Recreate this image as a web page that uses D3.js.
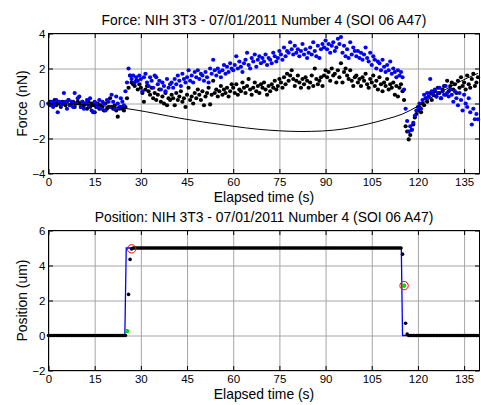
<!DOCTYPE html>
<html>
<head>
<meta charset="utf-8">
<script src="https://cdn.jsdelivr.net/npm/d3@7"></script>
<style>
  html, body { margin: 0; padding: 0; background: #fff; }
  svg { display: block; font-family: "Liberation Sans", Arial, Helvetica, sans-serif; }
</style>
</head>
<body>
<svg id="chart" width="481" height="405"></svg>
<script>
// Acquisition clock: one sample every half second, 280 samples (0 - 139.5 s)
const sampleStep = 0.5;

// Force on the cell, raw channel (nN)
const forceBlack = [
  0.0,0.1,-0.1,0.0,0.2,-0.1,0.1,0.0,-0.2,0.1,0.0,-0.1,0.1,0.2,-0.1,0.0,0.1,-0.2,0.0,0.1,
  0.0,-0.2,0.1,-0.1,0.0,-0.3,0.1,-0.2,0.0,-0.1,-0.5,-0.2,0.0,-0.3,-0.1,-0.2,-0.4,0.0,-0.3,-0.2,
  0.3,-0.2,-0.3,-0.1,-0.4,-0.75,-0.3,-0.2,-0.3,-0.4,-0.2,0.3,0.9,1.6,1.2,1.1,1.0,1.3,0.8,1.1,
  0.9,0.6,0.1,0.8,1.0,0.7,0.5,0.9,0.3,0.6,0.2,0.5,0.8,0.1,0.4,0.0,0.6,-0.1,0.3,0.2,
  0.5,0.3,-0.1,0.6,0.2,0.4,0.7,0.1,0.3,-0.2,0.5,0.9,0.2,0.4,0.0,0.6,0.3,0.8,0.5,0.2,
  0.7,-0.1,0.4,0.6,0.9,-0.05,0.5,1.3,0.6,0.8,0.4,0.7,1.0,0.5,0.8,0.6,0.9,0.4,0.7,1.1,
  0.9,0.6,1.1,0.5,0.8,0.7,1.2,0.9,0.6,1.0,1.4,0.8,0.5,0.9,1.2,0.7,1.0,0.6,1.1,0.9,
  1.2,0.8,0.5,1.0,0.7,1.1,0.9,1.3,0.8,1.0,1.4,1.2,0.9,1.5,1.1,1.7,1.3,1.6,1.9,1.4,
  1.0,1.3,1.6,1.2,0.9,1.4,1.1,1.5,1.3,0.9,1.2,1.6,1.0,2.0,1.4,1.1,1.3,1.5,1.0,1.6,
  1.9,1.5,1.8,1.3,2.0,1.6,1.7,1.2,1.9,1.5,2.3,1.2,1.8,2.0,1.6,1.4,1.9,1.3,1.0,1.5,
  1.6,1.2,1.4,1.0,1.5,1.3,1.7,1.1,0.9,1.4,1.2,1.6,1.0,1.3,0.8,1.5,1.1,0.7,1.2,1.0,
  1.4,0.8,1.1,0.9,1.2,0.5,1.0,0.4,0.9,1.1,0.7,0.2,-1.3,-1.6,-2.05,-1.8,-1.5,-1.2,-0.8,-0.6,
  -0.4,-0.2,-0.5,0.0,-0.1,0.3,0.1,0.4,0.6,0.2,0.5,0.7,0.4,0.9,0.6,0.3,0.8,1.0,0.5,1.3,
  0.7,1.0,1.2,0.8,1.1,0.6,1.3,0.9,1.5,1.0,1.2,0.8,1.6,1.1,0.9,1.4,1.7,1.0,1.2,1.5
];

// Force on the cell, drift-corrected channel (nN)
const forceBlue = [
  0.0,-0.1,0.1,-0.2,0.0,0.2,-0.5,0.1,-0.1,0.0,0.6,0.1,-0.3,0.2,-0.1,0.1,-0.2,0.6,0.0,0.3,
  0.4,-0.2,0.1,-0.3,0.0,0.2,-0.1,0.3,-0.4,-0.5,0.1,0.0,-0.2,0.2,-0.3,0.1,0.0,-0.4,0.2,0.1,
  -0.2,0.5,0.1,-0.3,0.4,0.0,-0.2,0.3,0.1,-0.1,0.7,1.2,2.0,1.6,1.4,1.6,1.2,1.5,1.3,1.6,
  1.4,0.7,1.5,1.7,1.2,1.0,1.5,1.3,0.9,1.6,1.5,1.1,1.3,0.8,1.2,1.0,0.7,1.4,0.9,1.1,
  1.2,0.9,1.4,1.1,1.6,1.3,1.0,1.7,1.4,1.2,1.5,1.9,1.3,1.6,1.2,1.8,1.5,1.9,1.4,1.7,
  1.6,1.3,1.8,1.5,1.2,2.0,1.7,2.5,1.9,1.6,2.0,1.8,1.5,1.9,2.2,1.7,2.1,1.8,2.3,2.0,
  1.9,2.2,2.7,2.0,2.4,2.1,1.8,2.3,2.5,2.9,2.2,2.0,2.6,2.4,2.8,2.1,2.5,2.7,2.3,2.6,
  2.4,2.8,2.2,2.6,2.5,2.3,2.9,2.7,2.4,2.6,3.0,2.8,2.5,3.2,2.7,3.0,2.9,3.5,3.1,2.8,
  3.3,2.9,3.1,2.7,3.0,3.4,2.8,3.1,2.6,2.9,3.2,2.8,3.5,3.0,2.7,3.3,2.6,3.1,3.4,3.2,
  3.6,3.1,3.4,2.9,3.3,3.5,3.0,3.2,3.7,3.4,3.8,2.9,3.3,2.7,3.1,2.6,3.5,2.8,3.2,3.0,
  2.7,3.0,2.6,2.9,2.5,2.8,3.2,2.6,2.4,2.9,2.2,2.7,2.5,2.0,2.4,2.3,1.9,2.5,2.1,1.8,
  2.2,1.9,2.4,1.7,2.0,1.8,1.5,1.9,1.6,1.8,1.5,0.8,-0.3,-1.0,-1.6,-1.3,-1.5,-1.1,-0.7,-0.4,
  -0.2,0.0,-0.3,0.2,0.5,0.3,0.6,0.4,1.4,0.7,0.5,0.8,0.4,0.6,0.9,0.3,0.7,0.5,1.0,0.6,
  0.4,0.8,0.5,0.1,0.7,0.3,-0.1,0.6,0.2,-0.4,0.5,0.0,-0.2,0.3,-0.5,-1.2,-0.3,-0.9,-0.6,-0.9
];

// Baseline drift fit (knots of the smooth curve)
const fitTimes = [0, 10, 20, 28, 35, 43, 50, 60, 68, 75, 82, 89, 96, 104, 110, 115, 120, 124, 128, 132, 136, 139.5];
const fitForce = [0.0, -0.05, -0.17, -0.36, -0.58, -0.85, -1.05, -1.3, -1.47, -1.56, -1.6, -1.57, -1.45, -1.16, -0.88, -0.6, -0.15, 0.3, 0.7, 1.1, 1.45, 1.72];

// Measured stage position (um), same clock as the force samples
const positionValues = [
  0,0,0,0,0,0,0,0,0,0,0,0,0,0,0,0,0,0,0,0,
  0,0,0,0,0,0,0,0,0,0,0,0,0,0,0,0,0,0,0,0,
  0,0,0,0,0,0,0,0,0,0,0,0.25,2.35,4.35,4.95,5,5,5,5,5,
  5,5,5,5,5,5,5,5,5,5,5,5,5,5,5,5,5,5,5,5,
  5,5,5,5,5,5,5,5,5,5,5,5,5,5,5,5,5,5,5,5,
  5,5,5,5,5,5,5,5,5,5,5,5,5,5,5,5,5,5,5,5,
  5,5,5,5,5,5,5,5,5,5,5,5,5,5,5,5,5,5,5,5,
  5,5,5,5,5,5,5,5,5,5,5,5,5,5,5,5,5,5,5,5,
  5,5,5,5,5,5,5,5,5,5,5,5,5,5,5,5,5,5,5,5,
  5,5,5,5,5,5,5,5,5,5,5,5,5,5,5,5,5,5,5,5,
  5,5,5,5,5,5,5,5,5,5,5,5,5,5,5,5,5,5,5,5,
  5,5,5,5,5,5,5,5,5,5,4.65,2.85,0.7,0.08,0,0,0,0,0,0,
  0,0,0,0,0,0,0,0,0,0,0,0,0,0,0,0,0,0,0,0,
  0,0,0,0,0,0,0,0,0,0,0,0,0,0,0,0,0,0,0,0
];

// Commanded stage position (um)
const commandTimes = [0, 24.8, 25.25, 114.6, 115.0, 139.5];
const commandPos   = [0, 0, 5, 5, 0, 0];

// Sample indices flagged by the step detector
const stepStartIdx = [51, 231];   // green markers
const settledIdx   = [54, 231];   // red open circles

// Axis ticks
const timeTicks = [0, 15, 30, 45, 60, 75, 90, 105, 120, 135];
const forceTicks = [-4, -2, 0, 2, 4];
const positionTicks = [-2, 0, 2, 4, 6];

const sampleTimes = positionValues.map((_, i) => i * sampleStep);

const svg = d3.select("#chart");
const FONT_TICK = 11.5, FONT_LABEL = 13.9;
const x = d3.scaleLinear().domain([0, 140]).range([48.5, 479.5]);

function panel(opts) {
  const y = d3.scaleLinear().domain(opts.yDomain).range([opts.bottom, opts.top]);
  const g = svg.append("g");
  const [x0, x1] = x.range();
  const h = opts.bottom - opts.top;

  // grid
  const grid = g.append("g").attr("class", "grid");
  grid.append("g").attr("transform", `translate(0,${opts.bottom})`)
    .call(d3.axisBottom(x).tickValues(timeTicks).tickSize(-h).tickFormat(""));
  grid.append("g").attr("transform", `translate(${x0},0)`)
    .call(d3.axisLeft(y).tickValues(opts.yTicks).tickSize(-(x1 - x0)).tickFormat(""));
  grid.selectAll(".domain").remove();
  grid.selectAll("line").attr("stroke", "#a6a6a6").attr("stroke-width", 1);

  // data
  const plot = g.append("g");
  opts.draw(plot, y);

  // ticks (inward on all four sides)
  const tk = 4.5;
  const axes = g.append("g");
  const bottomAx = axes.append("g").attr("transform", `translate(0,${opts.bottom})`)
    .call(d3.axisBottom(x).tickValues(timeTicks).tickSize(-tk).tickSizeOuter(0).tickPadding(4.5));
  axes.append("g").attr("transform", `translate(0,${opts.top})`)
    .call(d3.axisTop(x).tickValues(timeTicks).tickSize(-tk).tickSizeOuter(0).tickFormat(""));
  axes.append("g").attr("transform", `translate(${x0},0)`)
    .call(d3.axisLeft(y).tickValues(opts.yTicks).tickSize(-tk).tickSizeOuter(0).tickPadding(3));
  axes.append("g").attr("transform", `translate(${x1},0)`)
    .call(d3.axisRight(y).tickValues(opts.yTicks).tickSize(-tk).tickSizeOuter(0).tickFormat(""));
  axes.selectAll(".domain").remove();
  axes.selectAll(".tick line").attr("stroke", "#000");
  axes.selectAll("g").attr("font-family", null).attr("font-size", null);
  axes.selectAll(".tick text").attr("fill", "#000").style("font-size", FONT_TICK + "px");
  bottomAx.selectAll(".tick text").text(d => d);

  // frame
  g.append("rect").attr("x", x0).attr("y", opts.top).attr("width", x1 - x0).attr("height", h)
    .attr("fill", "none").attr("stroke", "#000").attr("stroke-width", 1);

  // titles
  const cx = (x0 + x1) / 2;
  g.append("text").attr("x", cx).attr("y", opts.top - 8.3).attr("text-anchor", "middle")
    .style("font-size", FONT_LABEL + "px").text(opts.title);
  g.append("text").attr("x", cx).attr("y", opts.bottom + 28.8).attr("text-anchor", "middle")
    .style("font-size", FONT_LABEL + "px").text("Elapsed time (s)");
  g.append("text").attr("transform", `translate(26.7,${(opts.top + opts.bottom) / 2}) rotate(-90)`)
    .attr("text-anchor", "middle").style("font-size", FONT_LABEL + "px").text(opts.yLabel);
}

// Force panel
panel({
  top: 33.5, bottom: 173.5, yDomain: [-4, 4], yTicks: forceTicks,
  title: "Force: NIH 3T3 - 07/01/2011 Number 4 (SOI 06 A47)",
  yLabel: "Force (nN)",
  draw(plot, y) {
    plot.append("g").selectAll("circle").data(forceBlack).join("circle")
      .attr("cx", (d, i) => x(sampleTimes[i])).attr("cy", d => y(d)).attr("r", 2.1).attr("fill", "#000");
    plot.append("g").selectAll("circle").data(forceBlue).join("circle")
      .attr("cx", (d, i) => x(sampleTimes[i])).attr("cy", d => y(d)).attr("r", 2.1).attr("fill", "#0000ff");
    const line = d3.line().x(i => x(fitTimes[i])).y(i => y(fitForce[i])).curve(d3.curveMonotoneX);
    plot.append("path").attr("d", line(d3.range(fitTimes.length)))
      .attr("fill", "none").attr("stroke", "#000").attr("stroke-width", 1);
  }
});

// Position panel
panel({
  top: 230.5, bottom: 370.5, yDomain: [-2, 6], yTicks: positionTicks,
  title: "Position: NIH 3T3 - 07/01/2011 Number 4 (SOI 06 A47)",
  yLabel: "Position (um)",
  draw(plot, y) {
    const line = d3.line().x(i => x(commandTimes[i])).y(i => y(commandPos[i]));
    plot.append("path").attr("d", line(d3.range(commandTimes.length)))
      .attr("fill", "none").attr("stroke", "#0000ff").attr("stroke-width", 1.3);
    plot.append("g").selectAll("circle").data(positionValues).join("circle")
      .attr("cx", (d, i) => x(sampleTimes[i])).attr("cy", d => y(d)).attr("r", 1.8).attr("fill", "#000");
    plot.append("g").selectAll("circle").data(stepStartIdx).join("circle")
      .attr("cx", i => x(sampleTimes[i])).attr("cy", i => y(positionValues[i])).attr("r", 2.1)
      .attr("fill", "#00e000");
    plot.append("g").selectAll("circle").data(settledIdx).join("circle")
      .attr("cx", i => x(sampleTimes[i])).attr("cy", i => y(positionValues[i])).attr("r", 4.2)
      .attr("fill", "none").attr("stroke", "#ff0000").attr("stroke-width", 1);
  }
});
</script>
</body>
</html>
